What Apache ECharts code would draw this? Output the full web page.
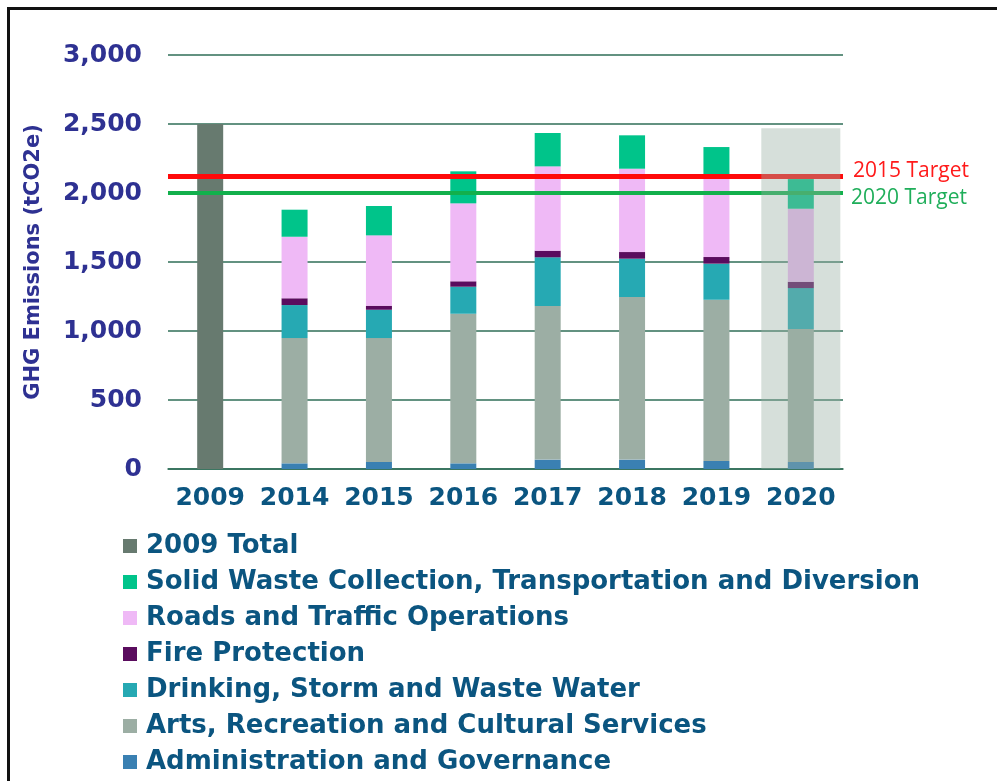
<!DOCTYPE html>
<html>
<head>
<meta charset="utf-8">
<script src="https://cdn.jsdelivr.net/npm/echarts@6/dist/echarts.min.js"></script>
<style>
  html, body { margin: 0; padding: 0; background: #fff; overflow: hidden; }
  #frame {
    position: absolute; left: 7px; top: 7px; width: 990px; height: 774px;
    border-left: 3px solid #111; border-top: 3px solid #111; box-sizing: border-box;
  }
  #main { position: absolute; left: 0; top: 0; width: 997px; height: 781px; }
</style>
</head>
<body>
<div id="frame"></div>
<div id="main"></div>
<script>
// 年份
const years = ['2009', '2014', '2015', '2016', '2017', '2018', '2019', '2020']
// 各部门排放量 (tCO2e)
const total2009 = [2500, null, null, null, null, null, null, null]
const admin = [null, 41, 51, 41, 68, 68, 58, 51]
const arts = [null, 908, 898, 1084, 1113, 1178, 1169, 963]
const water = [null, 239, 205, 196, 353, 278, 261, 297]
const fire = [null, 49, 29, 39, 48, 48, 48, 46]
const roads = [null, 446, 510, 565, 611, 604, 594, 529]
const waste = [null, 196, 213, 232, 242, 242, 203, 215]
// 2020 灰色遮罩
const shade2020 = [null, null, null, null, null, null, null, 2470]
// 目标线
const target2015 = 2125
const target2020 = 2000
const yTicks = [0, 500, 1000, 1500, 2000, 2500, 3000]

const labelColor = '#0b5580'
const yColor = '#2e3192'
const heavy = 'DejaVu Sans'

function barSeries(name, data, color) {
  return {
    name: name,
    type: 'bar',
    stack: 'total',
    barWidth: 26,
    data: data,
    itemStyle: { color: color }
  }
}

const myChart = echarts.init(document.getElementById('main'), null, { renderer: 'canvas' })

const adminSeries = barSeries('Administration and Governance', admin, '#3a80b2')
adminSeries.markLine = {
  silent: true,
  symbol: 'none',
  z: 5,
  data: [
    {
      yAxis: target2015,
      lineStyle: { color: '#ff0a0a', width: 5, type: 'solid' },
      label: {
        show: true, position: 'end', formatter: '2015 Target', color: '#ff1a1a',
        fontFamily: 'Open Sans', fontSize: 21, distance: 10,
        verticalAlign: 'bottom', lineHeight: 10
      }
    },
    {
      yAxis: target2020,
      lineStyle: { color: '#12b04c', width: 4, type: 'solid' },
      label: {
        show: true, position: 'end', formatter: '2020 Target', color: '#1fae5a',
        fontFamily: 'Open Sans', fontSize: 21, distance: 8,
        verticalAlign: 'top', lineHeight: 10
      }
    }
  ]
}

myChart.setOption({
  animation: false,
  grid: {
    left: 168,
    right: 154,
    top: 55,
    bottom: 312
  },
  legend: {
    orient: 'vertical',
    left: 118,
    top: 528,
    itemWidth: 14,
    itemHeight: 14,
    itemGap: 10,
    icon: 'rect',
    selectedMode: false,
    textStyle: {
      color: labelColor,
      fontFamily: heavy,
      fontWeight: 'bold',
      fontSize: 26,
      padding: [0, 0, 0, 4]
    },
    data: [
      '2009 Total',
      'Solid Waste Collection, Transportation and Diversion',
      'Roads and Traffic Operations',
      'Fire Protection',
      'Drinking, Storm and Waste Water',
      'Arts, Recreation and Cultural Services',
      'Administration and Governance'
    ]
  },
  xAxis: [
    {
      type: 'category',
      data: years,
      axisLine: { show: true, lineStyle: { color: '#2f6e57', width: 1.5 } },
      axisTick: { show: false },
      axisLabel: {
        interval: 0,
        hideOverlap: false,
        margin: 17,
        color: labelColor,
        fontFamily: heavy,
        fontWeight: 'bold',
        fontSize: 25
      }
    },
    {
      type: 'category',
      data: years,
      show: false
    }
  ],
  yAxis: {
    type: 'value',
    min: 0,
    max: 3000,
    interval: 500,
    name: 'GHG Emissions (tCO2e)',
    nameLocation: 'middle',
    nameRotate: 90,
    nameGap: 124,
    nameTextStyle: {
      color: yColor,
      fontFamily: heavy,
      fontWeight: 'bold',
      fontSize: 21
    },
    axisLine: { show: false },
    axisTick: { show: false },
    axisLabel: {
      margin: 26,
      color: yColor,
      fontFamily: heavy,
      fontWeight: 'bold',
      fontSize: 25,
      formatter: function (v) {
        return yTicks.indexOf(v) >= 0 ? v.toLocaleString('en-US') : ''
      }
    },
    splitLine: {
      show: true,
      lineStyle: { color: '#2f6e57', width: 1.5 }
    }
  },
  series: [
    barSeries('2009 Total', total2009, '#677a6f'),
    adminSeries,
    barSeries('Arts, Recreation and Cultural Services', arts, '#9caea4'),
    barSeries('Drinking, Storm and Waste Water', water, '#26a9b3'),
    barSeries('Fire Protection', fire, '#5a0c5e'),
    barSeries('Roads and Traffic Operations', roads, '#efb9f6'),
    barSeries('Solid Waste Collection, Transportation and Diversion', waste, '#00c48a'),
    {
      // 2020 预测区域遮罩
      name: 'shade',
      type: 'bar',
      xAxisIndex: 1,
      barWidth: 79,
      z: 10,
      silent: true,
      data: shade2020,
      itemStyle: { color: 'rgba(152,175,162,0.4)' }
    }
  ]
})
</script>
</body>
</html>
